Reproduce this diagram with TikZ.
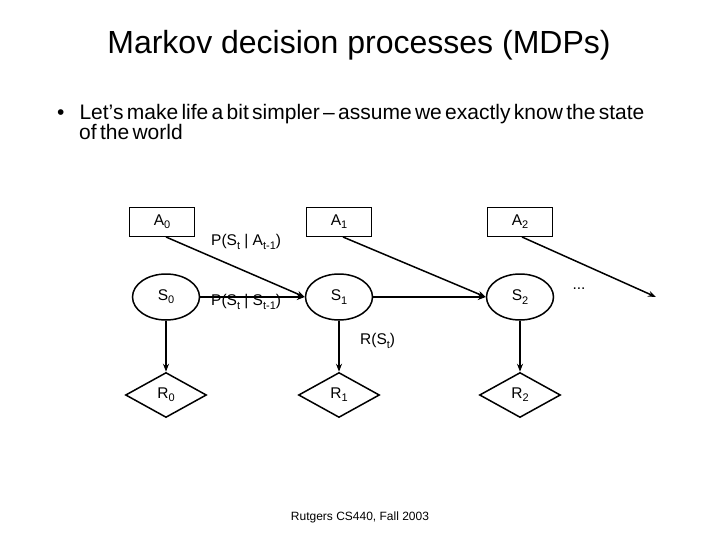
\documentclass[tikz,border=0pt]{standalone}
\usepackage{fontspec}
\setmainfont{Liberation Sans}
\usetikzlibrary{shapes.geometric,arrows.meta}
\newcommand{\mysub}[1]{\raisebox{-0.4ex}{\fontsize{11}{12}\selectfont #1}}
\begin{document}
\begin{tikzpicture}[x=1pt,y=-1pt,
  abox/.style={draw,line width=1.5pt,minimum width=65pt,minimum height=29pt,font=\fontsize{15.5}{17}\selectfont},
  sell/.style={draw,line width=1.5pt,ellipse,minimum width=67pt,minimum height=46pt,inner sep=0pt,font=\fontsize{15.5}{17}\selectfont},
  rdia/.style={draw,line width=1.5pt,diamond,aspect=1.8,minimum width=81pt,minimum height=45pt,inner sep=0pt,font=\fontsize{15.5}{17}\selectfont},
  arr/.style={line width=1.5pt,-{Stealth[length=8pt,width=6pt]}},
  lbl/.style={font=\fontsize{15.5}{17}\selectfont}]
\useasboundingbox (0,0) rectangle (720,540);
\node (title) at (359,45) {\fontsize{32}{36}\selectfont Markov decision processes (MDPs)};
\node[anchor=north west,align=left,text width=660pt,inner sep=0pt] (bul) at (57,104)
  {\fontsize{21}{25}\selectfont\textbullet\hspace{15pt}Let’s make life a bit simpler -- assume we exactly know the state\\\hspace*{22pt}of the world};
\node[abox] (A0) at (162,222) {A\mysub{0}};
\node[abox] (A1) at (339,222) {A\mysub{1}};
\node[abox] (A2) at (520,222) {A\mysub{2}};
\node[sell] (S0) at (166,297) {S\mysub{0}};
\node[sell] (S1) at (339,297) {S\mysub{1}};
\node[sell] (S2) at (520,297) {S\mysub{2}};
\node[rdia] (R0) at (166,395) {R\mysub{0}};
\node[rdia] (R1) at (339,395) {R\mysub{1}};
\node[rdia] (R2) at (520,395) {R\mysub{2}};
\node[lbl] (dots) at (579,289) {...};
\coordinate (end) at (656,297);
\draw[arr] (166,237) -- (S1.west);
\draw[arr] (343,237) -- (S2.west);
\draw[arr] (522,237) -- (end);
\draw[arr] (S0) -- (S1);
\draw[arr] (S1) -- (S2);
\draw[arr] (S0) -- (R0);
\draw[arr] (S1) -- (R1);
\draw[arr] (S2) -- (R2);
\node[lbl,anchor=west,inner sep=0pt] (l1) at (211,242) {P(S\mysub{t} | A\mysub{t-1})};
\node[lbl,anchor=west,inner sep=0pt] (l2) at (211,302) {P(S\mysub{t} | S\mysub{t-1})};
\node[lbl,anchor=west,inner sep=0pt] (l3) at (360,341) {R(S\mysub{t})};
\node (foot) at (360,517) {\fontsize{12}{14}\selectfont Rutgers CS440, Fall 2003};
\end{tikzpicture}
\end{document}
